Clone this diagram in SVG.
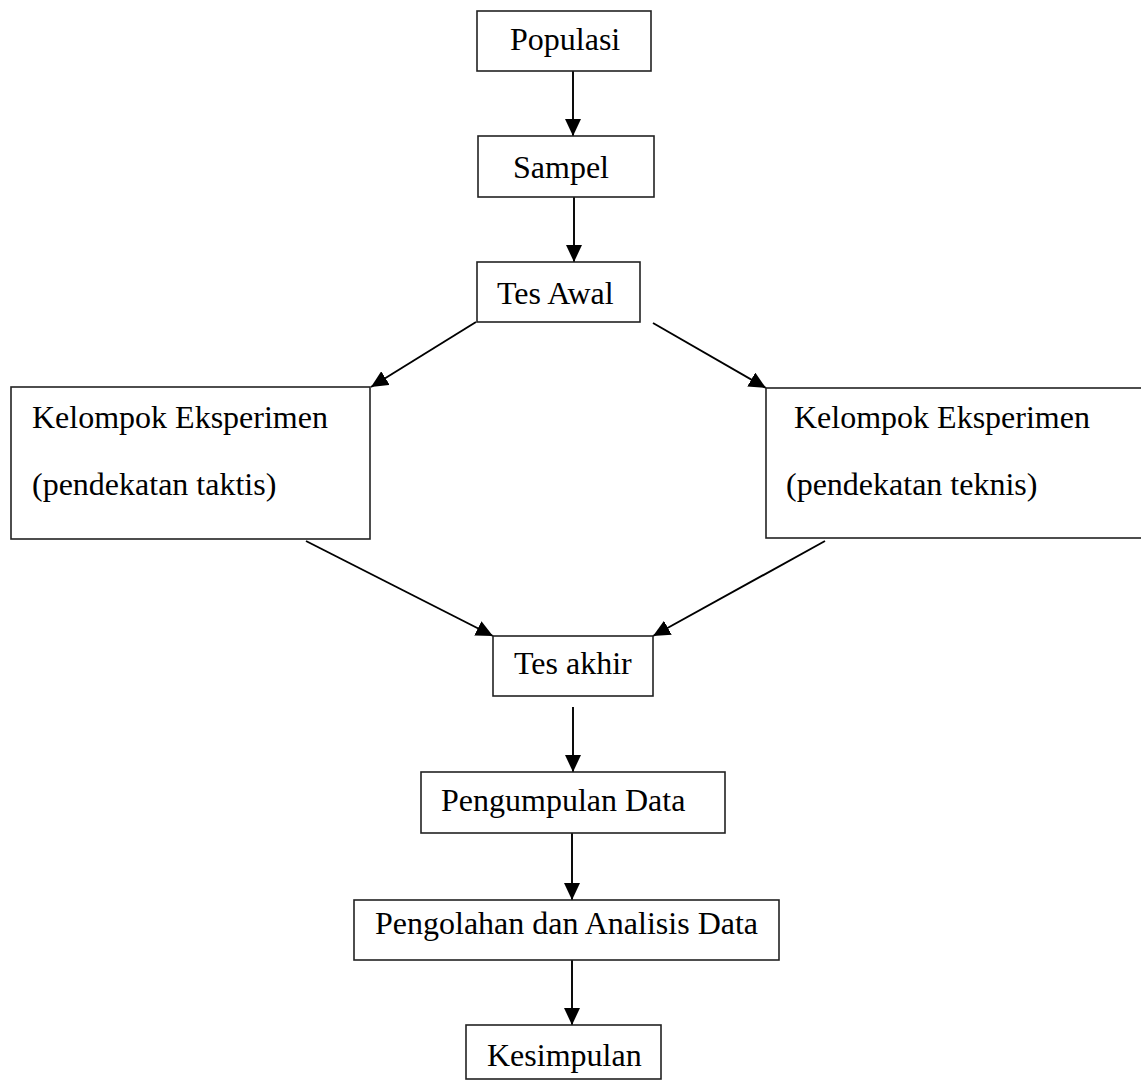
<svg xmlns="http://www.w3.org/2000/svg" width="1141" height="1086" viewBox="0 0 1141 1086">
<style>
.box{fill:#fff;stroke:#222;stroke-width:1.6}
.lbl{font-family:"Liberation Serif","Times New Roman",serif;font-size:32px;fill:#000}
.con{stroke:#000;stroke-width:1.9;fill:none;marker-end:url(#ah)}
</style>
<defs>
<marker id="ah" markerUnits="userSpaceOnUse" markerWidth="17" markerHeight="16" refX="17" refY="8" orient="auto">
<path d="M0,0 L17,8 L0,16 z" fill="#000"/>
</marker>
</defs>
<rect width="1141" height="1086" fill="#fff"/>
<g id="connectors">
<line class="con" x1="573" y1="71" x2="573" y2="136"/>
<line class="con" x1="574" y1="197" x2="574" y2="262"/>
<line class="con" x1="476" y1="322" x2="371" y2="387"/>
<line class="con" x1="653" y1="323" x2="766" y2="388"/>
<line class="con" x1="306" y1="541" x2="493" y2="636"/>
<line class="con" x1="825" y1="541" x2="653" y2="636"/>
<line class="con" x1="573" y1="707" x2="573" y2="772"/>
<line class="con" x1="572" y1="833" x2="572" y2="900"/>
<line class="con" x1="572" y1="960" x2="572" y2="1025"/>
</g>
<g id="populasi">
<rect class="box" x="477" y="11" width="174" height="60"/>
<text class="lbl" x="510" y="50">Populasi</text>
</g>
<g id="sampel">
<rect class="box" x="478" y="136" width="176" height="61"/>
<text class="lbl" x="513" y="178">Sampel</text>
</g>
<g id="tes-awal">
<rect class="box" x="477" y="262" width="163" height="60"/>
<text class="lbl" x="497" y="304">Tes Awal</text>
</g>
<g id="kelompok-taktis">
<rect class="box" x="11" y="387" width="359" height="152"/>
<text class="lbl" x="32" y="428">Kelompok Eksperimen</text>
<text class="lbl" x="32" y="495">(pendekatan taktis)</text>
</g>
<g id="kelompok-teknis">
<rect class="box" x="766" y="388" width="380" height="150"/>
<text class="lbl" x="794" y="428">Kelompok Eksperimen</text>
<text class="lbl" x="786" y="495">(pendekatan teknis)</text>
</g>
<g id="tes-akhir">
<rect class="box" x="493" y="636" width="160" height="60"/>
<text class="lbl" x="514" y="674">Tes akhir</text>
</g>
<g id="pengumpulan">
<rect class="box" x="421" y="772" width="304" height="61"/>
<text class="lbl" x="441" y="811">Pengumpulan Data</text>
</g>
<g id="pengolahan">
<rect class="box" x="354" y="900" width="425" height="60"/>
<text class="lbl" x="375" y="934">Pengolahan dan Analisis Data</text>
</g>
<g id="kesimpulan">
<rect class="box" x="466" y="1025" width="195" height="54"/>
<text class="lbl" x="487" y="1066">Kesimpulan</text>
</g>
</svg>
